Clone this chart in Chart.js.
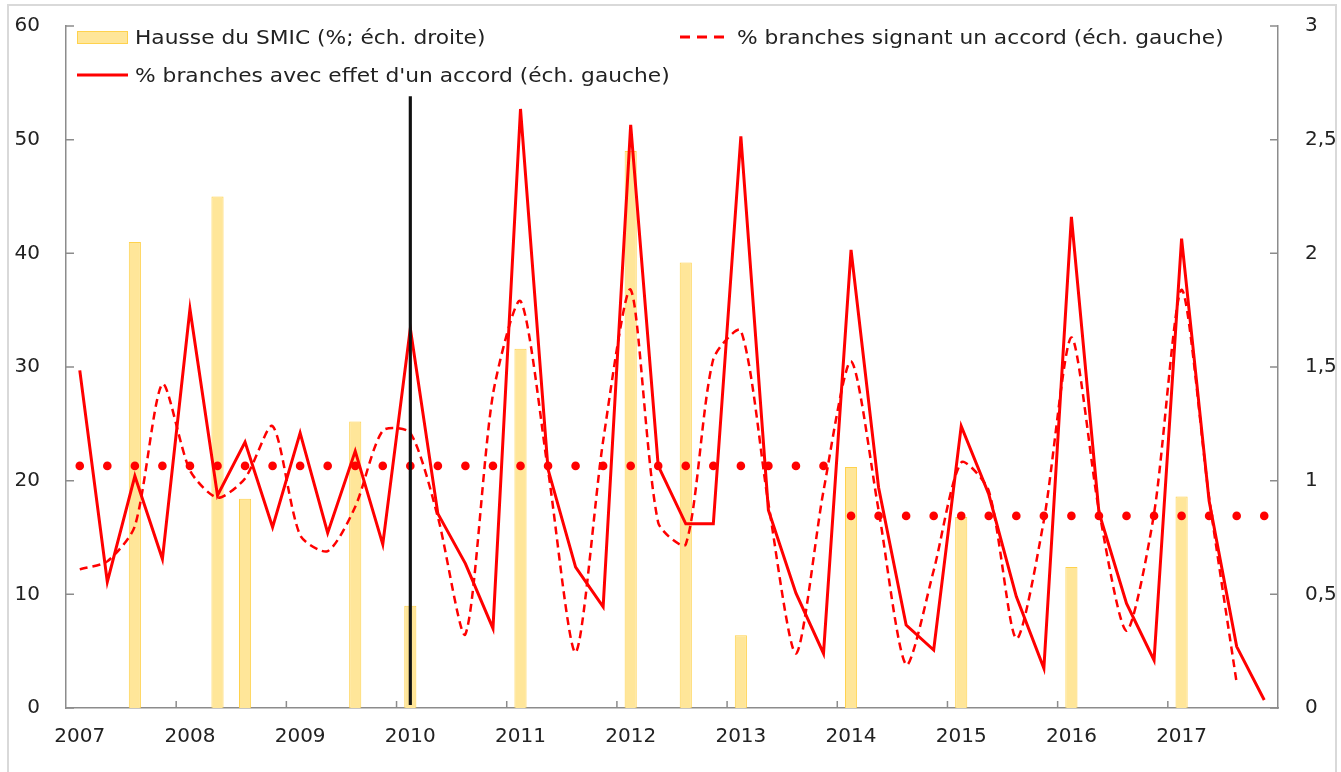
<!DOCTYPE html>
<html lang="fr">
<head>
<meta charset="utf-8">
<title>Hausse du SMIC et accords de branche</title>
<script src="https://cdn.jsdelivr.net/npm/chart.js@4.4.1/dist/chart.umd.min.js"></script>
<style>
  body { margin: 0; background: #fff; color: #222; font-family: "DejaVu Sans", sans-serif; }
  #wrap { position: relative; width: 1341px; height: 772px; overflow: hidden; }
  #frame { position: absolute; left: 7px; top: 4px; width: 1326px; height: 800px; border: 2px solid #d9d9d9; }
  #box { position: absolute; left: 0; top: -13px; width: 1341px; height: 785px; }
  .leg { position: absolute; font-size: 19px; line-height: 19px; white-space: nowrap; color: #222;
         transform: scaleX(1.145); transform-origin: left center; }
  .sw { position: absolute; }
</style>
</head>
<body>
<div id="wrap">
  <div id="frame"></div>
  <div id="box"><canvas id="smicChart"></canvas></div>

  <svg class="sw" style="left:77px;top:31px" width="52" height="14"><rect x="0.5" y="0.5" width="50" height="12" fill="#FFE699" stroke="#FFD24D"/></svg>
  <div class="leg" style="left:135px;top:28px">Hausse du SMIC (%; éch. droite)</div>

  <svg class="sw" style="left:680px;top:32px" width="52" height="10"><line x1="0" y1="5" x2="51" y2="5" stroke="#ff0000" stroke-width="3" stroke-dasharray="10 7"/></svg>
  <div class="leg" style="left:737px;top:28px">% branches signant un accord (éch. gauche)</div>

  <svg class="sw" style="left:77px;top:70px" width="52" height="10"><line x1="0" y1="5" x2="51" y2="5" stroke="#ff0000" stroke-width="3"/></svg>
  <div class="leg" style="left:135px;top:66px">% branches avec effet d'un accord (éch. gauche)</div>
</div>

<script>
// trimestres 2007T1 - 2017T4
const quarters = [
  '2007T1','2007T2','2007T3','2007T4','2008T1','2008T2','2008T3','2008T4',
  '2009T1','2009T2','2009T3','2009T4','2010T1','2010T2','2010T3','2010T4',
  '2011T1','2011T2','2011T3','2011T4','2012T1','2012T2','2012T3','2012T4',
  '2013T1','2013T2','2013T3','2013T4','2014T1','2014T2','2014T3','2014T4',
  '2015T1','2015T2','2015T3','2015T4','2016T1','2016T2','2016T3','2016T4',
  '2017T1','2017T2','2017T3','2017T4'
];

// hausse du SMIC, % (échelle droite)
const smic = [
  null, null, 2.05, null, null, 2.25, 0.92, null,
  null, null, 1.26, null, 0.45, null, null, null,
  1.58, null, null, null, 2.45, null, 1.96, null,
  0.32, null, null, null, 1.06, null, null, null,
  0.84, null, null, null, 0.62, null, null, null,
  0.93, null, null, null
];

// % branches avec effet d'un accord (échelle gauche)
const effet = [
  29.7, 11.1, 20.4, 13.1, 35.1, 18.7, 23.4, 15.9,
  24.2, 15.4, 22.6, 14.4, 33.4, 17.1, 12.7, 7.0,
  52.7, 21.0, 12.4, 8.9, 51.3, 21.3, 16.2, 16.2,
  50.3, 17.4, 10.1, 4.8, 40.3, 19.4, 7.3, 5.1,
  24.8, 18.8, 9.8, 3.5, 43.2, 17.2, 9.2, 4.2,
  41.3, 18.2, 5.4, 0.7
];

// % branches signant un accord (échelle gauche)
const signant = [
  12.2, 12.9, 16.0, 28.5, 20.9, 18.5, 20.2, 24.8,
  15.2, 13.8, 17.7, 24.4, 24.2, 16.8, 6.5, 27.6,
  35.8, 20.9, 4.9, 23.5, 36.8, 16.3, 14.4, 30.7,
  33.2, 18.0, 4.8, 19.1, 30.5, 17.4, 3.8, 12.1,
  21.6, 19.1, 6.1, 16.5, 32.6, 17.4, 6.8, 17.1,
  36.8, 18.5, 2.2, null
];

// moyennes (pointillés)
const moy0713 = [
  21.3, 21.3, 21.3, 21.3, 21.3, 21.3, 21.3, 21.3,
  21.3, 21.3, 21.3, 21.3, 21.3, 21.3, 21.3, 21.3,
  21.3, 21.3, 21.3, 21.3, 21.3, 21.3, 21.3, 21.3,
  21.3, 21.3, 21.3, 21.3, null, null, null, null,
  null, null, null, null, null, null, null, null,
  null, null, null, null
];
const moy1417 = [
  null, null, null, null, null, null, null, null,
  null, null, null, null, null, null, null, null,
  null, null, null, null, null, null, null, null,
  null, null, null, null, 16.9, 16.9, 16.9, 16.9,
  16.9, 16.9, 16.9, 16.9, 16.9, 16.9, 16.9, 16.9,
  16.9, 16.9, 16.9, 16.9
];

// trait vertical 2010T1
const repere = [
  null, null, null, null, null, null, null, null,
  null, null, null, null, [0.3, 53.8], null, null, null,
  null, null, null, null, null, null, null, null,
  null, null, null, null, null, null, null, null,
  null, null, null, null, null, null, null, null,
  null, null, null, null
];

const axisGrey = '#8c8c8c';
const tickFont = { family: 'DejaVu Sans', size: 20 };

// petites graduations tournées vers l'intérieur
const inwardTicks = {
  id: 'inwardTicks',
  beforeDatasetsDraw(chart) {
    const { ctx, chartArea: a, scales: { x, y, y2 } } = chart;
    ctx.save();
    ctx.strokeStyle = axisGrey;
    ctx.lineWidth = 1.5;
    ctx.beginPath();
    y.ticks.forEach((t, i) => {
      const py = y.getPixelForTick(i);
      ctx.moveTo(a.left, py); ctx.lineTo(a.left + 8, py);
    });
    y2.ticks.forEach((t, i) => {
      const py = y2.getPixelForTick(i);
      ctx.moveTo(a.right, py); ctx.lineTo(a.right - 8, py);
    });
    for (let i = 4; i < quarters.length; i += 4) {
      const px = (x.getPixelForValue(i - 1) + x.getPixelForValue(i)) / 2;
      ctx.moveTo(px, a.bottom); ctx.lineTo(px, a.bottom - 7);
    }
    ctx.stroke();
    ctx.restore();
  }
};

const ctx = document.getElementById('smicChart').getContext('2d');

new Chart(ctx, {
  type: 'bar',
  data: {
    labels: quarters,
    datasets: [
      {
        type: 'bar',
        label: 'Repère 2010',
        data: repere,
        yAxisID: 'y',
        backgroundColor: '#111',
        barThickness: 2.5,
        grouped: false,
        order: 0
      },
      {
        type: 'line',
        label: 'Moyenne 2007-2013',
        data: moy0713,
        yAxisID: 'y',
        showLine: false,
        pointRadius: 4.3,
        pointBorderWidth: 0,
        pointBackgroundColor: '#ff0000',
        order: 1
      },
      {
        type: 'line',
        label: 'Moyenne 2014-2017',
        data: moy1417,
        yAxisID: 'y',
        showLine: false,
        pointRadius: 4.3,
        pointBorderWidth: 0,
        pointBackgroundColor: '#ff0000',
        order: 1
      },
      {
        type: 'line',
        label: "% branches avec effet d'un accord (éch. gauche)",
        data: effet,
        yAxisID: 'y',
        borderColor: '#ff0000',
        borderWidth: 3,
        pointRadius: 0,
        tension: 0,
        order: 2
      },
      {
        type: 'line',
        label: '% branches signant un accord (éch. gauche)',
        data: signant,
        yAxisID: 'y',
        borderColor: '#ff0000',
        borderWidth: 2.5,
        borderDash: [8, 5],
        pointRadius: 0,
        tension: 0.25,
        order: 3
      },
      {
        type: 'bar',
        label: 'Hausse du SMIC (%; éch. droite)',
        data: smic,
        yAxisID: 'y2',
        backgroundColor: '#FFE699',
        borderColor: '#FFD24D',
        borderWidth: 1,
        barPercentage: 0.44,
        categoryPercentage: 1,
        grouped: false,
        order: 4
      }
    ]
  },
  options: {
    responsive: true,
    maintainAspectRatio: false,
    animation: false,
    layout: { padding: { top: 11 } },
    plugins: {
      legend: { display: false },
      tooltip: { enabled: false }
    },
    scales: {
      x: {
        grid: { display: false, drawTicks: false },
        border: { color: axisGrey, width: 1.5 },
        ticks: {
          autoSkip: false,
          maxRotation: 0,
          padding: 17,
          color: '#222',
          font: tickFont,
          callback: (v, i) => quarters[i].endsWith('T1') ? quarters[i].slice(0, 4) : ''
        },
        afterFit: s => { s.height = 64; }
      },
      y: {
        position: 'left',
        min: 0,
        max: 60,
        grid: { display: false, drawTicks: false },
        border: { color: axisGrey, width: 1.5 },
        ticks: { stepSize: 10, padding: 26, color: '#222', font: tickFont },
        afterFit: s => { s.width = 66; }
      },
      y2: {
        position: 'right',
        min: 0,
        max: 3,
        grid: { display: false, drawTicks: false },
        border: { color: axisGrey, width: 1.5 },
        ticks: {
          stepSize: 0.5,
          padding: 27,
          color: '#222',
          font: tickFont,
          callback: v => String(v).replace('.', ',')
        },
        afterFit: s => { s.width = 63; }
      }
    }
  },
  plugins: [inwardTicks]
});
</script>
</body>
</html>
